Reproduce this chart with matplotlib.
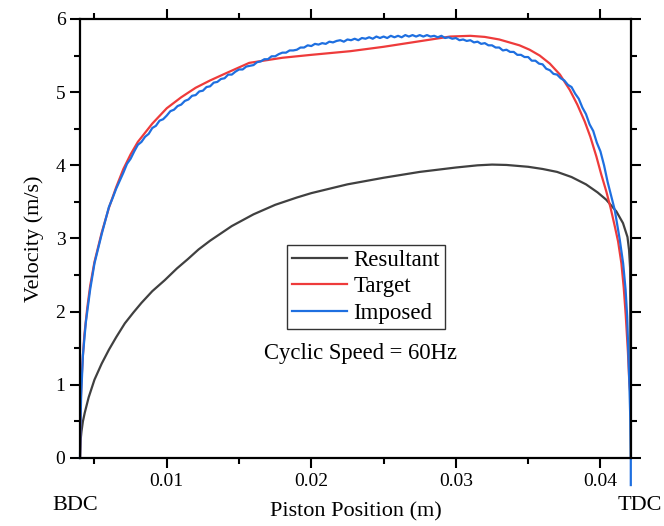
import matplotlib.pyplot as plt
from matplotlib.ticker import MultipleLocator

plt.rcParams['font.family'] = ['Liberation Serif', 'DejaVu Serif']

# Resultant velocity
x_res = [0.0040, 0.00405, 0.0041, 0.0042, 0.00433, 0.0046, 0.0050, 0.0055, 0.0060, 0.0065,
         0.0071, 0.0077, 0.00825, 0.0090, 0.00986, 0.0107, 0.01147, 0.0122, 0.0130, 0.0145,
         0.0160, 0.0175, 0.0190, 0.0200, 0.0225, 0.0250, 0.0275, 0.0300, 0.0315, 0.0325,
         0.0335, 0.0350, 0.0360, 0.0370, 0.0380, 0.0390, 0.0398, 0.0404, 0.0411, 0.04156,
         0.04187, 0.04198, 0.04205, 0.0421]
v_res = [0.0, 0.26, 0.36, 0.50, 0.62, 0.83, 1.07, 1.29, 1.48, 1.65,
         1.84, 1.99, 2.12, 2.28, 2.43, 2.59, 2.72, 2.85, 2.97, 3.17,
         3.33, 3.46, 3.56, 3.62, 3.74, 3.83, 3.91, 3.97, 4.00, 4.01,
         4.005, 3.98, 3.95, 3.91, 3.84, 3.74, 3.63, 3.53, 3.37, 3.21,
         3.02, 2.84, 2.60, 0.0]

# Target velocity
x_tar = [0.0040, 0.00402, 0.00405, 0.0041, 0.0042, 0.0043, 0.0045, 0.0047, 0.0050, 0.0055,
         0.0060, 0.0065, 0.0070, 0.0075, 0.0080, 0.0090, 0.0100, 0.0110, 0.0120, 0.0130,
         0.0140, 0.0157, 0.0180, 0.0200, 0.0227, 0.0250, 0.0273, 0.0296, 0.0310, 0.0320,
         0.0330, 0.0337, 0.0344, 0.0351, 0.0358, 0.0365, 0.0372, 0.03788, 0.0384, 0.03891,
         0.0393, 0.03972, 0.04005, 0.04041, 0.0407, 0.0410, 0.04122, 0.04145, 0.04161, 0.04175,
         0.0419, 0.0420, 0.04208]
v_tar = [0.0, 0.4, 0.75, 1.05, 1.40, 1.68, 2.05, 2.35, 2.68, 3.08,
         3.42, 3.70, 3.95, 4.15, 4.32, 4.57, 4.78, 4.93, 5.06, 5.16,
         5.25, 5.40, 5.47, 5.51, 5.56, 5.62, 5.69, 5.76, 5.77, 5.755,
         5.72, 5.68, 5.64, 5.58, 5.50, 5.39, 5.24, 5.03, 4.83, 4.60,
         4.39, 4.12, 3.88, 3.64, 3.42, 3.16, 2.96, 2.66, 2.33, 1.95,
         1.45, 1.02, 0.85]

# Imposed velocity (measured, noisy)
x_imp_start = [0.0040, 0.00403, 0.00408, 0.0042, 0.0044, 0.0047, 0.0050, 0.0055]
v_imp_start = [0.0, 0.45, 0.85, 1.40, 1.85, 2.30, 2.66, 3.06]
v_imp_mid = [3.43, 3.55, 3.68, 3.79, 3.90, 4.02, 4.09, 4.19, 4.28, 4.32, 4.39, 4.43,
             4.51, 4.54, 4.61, 4.63, 4.68, 4.74, 4.76, 4.81, 4.83, 4.88, 4.90, 4.95,
             4.96, 5.01, 5.02, 5.07, 5.08, 5.13, 5.14, 5.18, 5.19, 5.24, 5.24, 5.28,
             5.31, 5.31, 5.35, 5.36, 5.37, 5.41, 5.42, 5.45, 5.45, 5.49, 5.49, 5.52,
             5.54, 5.54, 5.57, 5.57, 5.58, 5.61, 5.61, 5.64, 5.63, 5.66, 5.65, 5.67,
             5.66, 5.69, 5.68, 5.70, 5.71, 5.69, 5.72, 5.71, 5.73, 5.71, 5.74, 5.73,
             5.75, 5.73, 5.76, 5.74, 5.76, 5.74, 5.77, 5.75, 5.77, 5.75, 5.78, 5.76,
             5.78, 5.76, 5.78, 5.76, 5.78, 5.76, 5.77, 5.75, 5.77, 5.74, 5.75, 5.73,
             5.74, 5.71, 5.72, 5.70, 5.71, 5.68, 5.69, 5.66, 5.67, 5.64, 5.64, 5.61,
             5.61, 5.57, 5.58, 5.55, 5.55, 5.51, 5.51, 5.48, 5.48, 5.43, 5.43, 5.39,
             5.38, 5.32, 5.30, 5.25, 5.24, 5.19, 5.16, 5.10, 5.07, 4.98, 4.91, 4.79,
             4.70, 4.56, 4.47, 4.31, 4.19]
x_imp_mid = [0.006 + 0.00025 * i for i in range(len(v_imp_mid))]
x_imp_end = [0.04025, 0.0405, 0.04064, 0.04099, 0.04134, 0.04157, 0.04174, 0.04185, 0.0420,
             0.04207, 0.0421, 0.0421]
v_imp_end = [4.00, 3.77, 3.66, 3.39, 2.98, 2.66, 2.30, 1.93, 1.02,
             0.50, 0.05, -0.37]

x_imp = x_imp_start + x_imp_mid + x_imp_end
v_imp = v_imp_start + v_imp_mid + v_imp_end

fig = plt.figure(figsize=(6.64, 5.26), dpi=100)
ax = fig.add_axes([0.1205, 0.1293, 0.8295, 0.8346])

ax.plot(x_res, v_res, color='#404040', lw=1.6, label='Resultant')
ax.plot(x_tar, v_tar, color='#EE3B3B', lw=1.6, label='Target')
ax.plot(x_imp, v_imp, color='#1E6FE0', lw=1.6, label='Imposed', clip_on=False)

ax.set_xlim(0.004, 0.0421)
ax.set_ylim(0, 6)
ax.xaxis.set_major_locator(MultipleLocator(0.01))
ax.xaxis.set_minor_locator(MultipleLocator(0.005))
ax.yaxis.set_major_locator(MultipleLocator(1))
ax.yaxis.set_minor_locator(MultipleLocator(0.5))
ax.set_xticks([0.01, 0.02, 0.03, 0.04])
ax.set_xticklabels(['0.01', '0.02', '0.03', '0.04'])

ax.tick_params(which='both', direction='out', top=True, right=True, width=1.5,
               labelsize=14)
ax.tick_params(which='major', length=7)
ax.tick_params(which='minor', length=4)
for s in ax.spines.values():
    s.set_linewidth(1.6)

ax.set_ylabel('Velocity (m/s)', fontsize=16, labelpad=8)
ax.set_xlabel('Piston Position (m)', fontsize=16)
ax.xaxis.set_label_coords(0.5, -0.101)

ax.text(-0.008, -0.108, 'BDC', transform=ax.transAxes, fontsize=16,
        ha='center', va='center')
ax.text(1.017, -0.108, 'TDC', transform=ax.transAxes, fontsize=16,
        ha='center', va='center')

leg = ax.legend(loc='center', bbox_to_anchor=(0.519, 0.39), fontsize=16.5,
                frameon=True, fancybox=False, edgecolor='black',
                handlelength=2.4, handletextpad=0.3, borderpad=0.2,
                labelspacing=0.25, borderaxespad=0)
leg.get_frame().set_linewidth(1.0)

ax.text(0.51, 0.239, 'Cyclic Speed = 60Hz', transform=ax.transAxes,
        fontsize=16.3, ha='center', va='center')

fig.savefig('out.png', dpi=100)
